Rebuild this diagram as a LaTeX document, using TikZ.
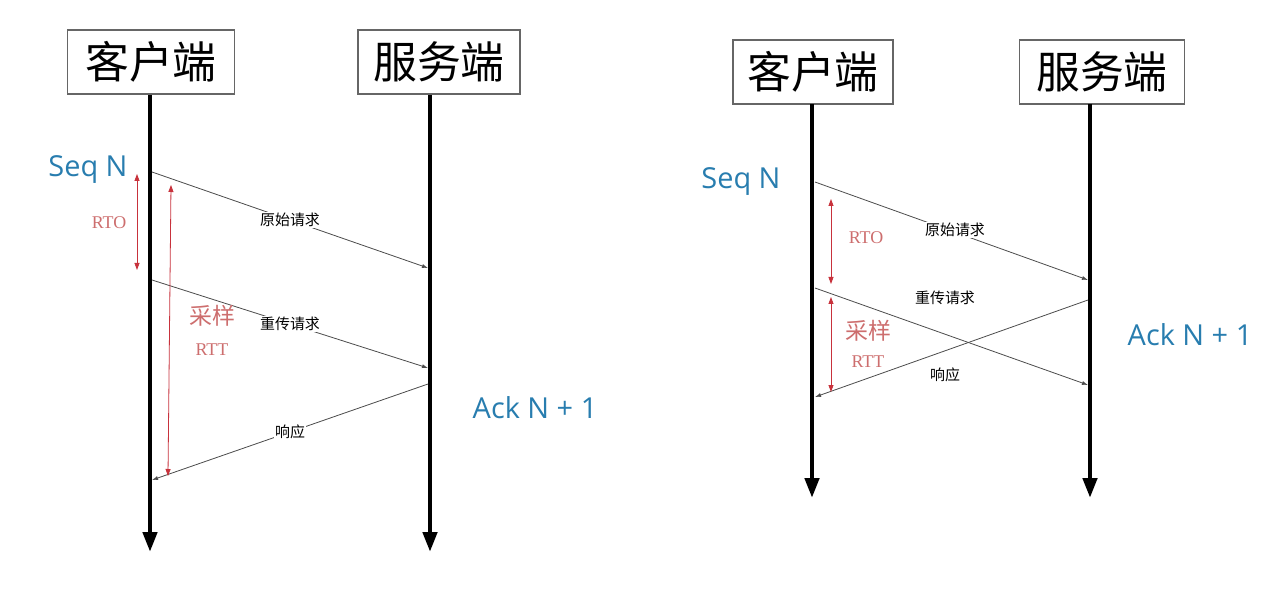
\documentclass[tikz,border=0pt]{standalone}
\usepackage{fontspec}
\setmainfont{Open Sans}
\newfontfamily\cjk{Noto Sans CJK SC}
\newfontfamily\serifl{Liberation Serif}
\usetikzlibrary{arrows.meta}
\definecolor{seqblue}{RGB}{40,125,175}
\definecolor{rred}{RGB}{200,50,60}
\definecolor{tred}{RGB}{205,110,110}
\tikzset{
  title/.style={draw=gray!80!black,line width=1.2bp,font=\cjk\fontsize{44}{46}\selectfont,inner sep=2bp,minimum height=64bp},
  life/.style={line width=4.5bp,-{Triangle[length=20bp,width=14bp]}},
  msg/.style={draw=gray!60!black,line width=0.8bp,-{Latex[length=6bp,width=4bp]}},
  mlabel/.style={fill=white,font=\cjk\fontsize{15}{17}\selectfont,inner sep=1bp},
  span/.style={draw=rred,line width=0.8bp,{Triangle[length=7bp,width=5bp]}-{Triangle[length=7bp,width=5bp]}},
  seq/.style={text=seqblue,font=\fontsize{29}{32}\selectfont},
  rlab/.style={text=tred,font=\serifl\fontsize{18}{20}\selectfont},
  rlabc/.style={text=tred,font=\cjk\fontsize{23}{25}\selectfont}
}
\begin{document}
\begin{tikzpicture}[x=1bp,y=-1bp]
\useasboundingbox (0,0) rectangle (1280,592);
\fill[white] (0,0) rectangle (1280,592);
% left diagram
\node[title,minimum width=167bp] (lc) at (151,62) {客户端};
\node[title,minimum width=162bp] (ls) at (439,62) {服务端};
\coordinate (lc0) at (150,95); \coordinate (lc1) at (150,552);
\coordinate (ls0) at (430,95); \coordinate (ls1) at (430,552);
\draw[life] (lc0) -- (lc1);
\draw[life] (ls0) -- (ls1);
\node[seq] (lseq) at (88,170) {Seq N};
\node[seq] (lack) at (535,408) {Ack N + 1};
\coordinate (la1) at (152,172); \coordinate (la2) at (428,268);
\coordinate (lb1) at (152,280); \coordinate (lb2) at (428,368);
\coordinate (lr1) at (428,384); \coordinate (lr2) at (152,480);
\draw[msg] (la1) -- node[mlabel,pos=0.5] (l1) {原始请求} (la2);
\draw[msg] (lb1) -- node[mlabel,pos=0.5] (l2) {重传请求} (lb2);
\draw[msg] (lr1) -- node[mlabel,pos=0.5] (l3) {响应} (lr2);
\coordinate (lrto1) at (137,174); \coordinate (lrto2) at (137,270);
\draw[span] (lrto1) -- (lrto2);
\node[rlab] (lrto) at (109,223) {RTO};
\coordinate (lrtt1) at (171,185); \coordinate (lrtt2) at (168,476);
\draw[span] (lrtt1) -- (lrtt2);
\node[rlabc] (lcy) at (212,316) {采样};
\node[rlab] (lrtt) at (212,350) {RTT};
% right diagram
\node[title,minimum width=160bp] (rc) at (813,72) {客户端};
\node[title,minimum width=165bp] (rs) at (1102,72) {服务端};
\coordinate (rc0) at (812,104); \coordinate (rc1) at (812,498);
\coordinate (rs0) at (1090,104); \coordinate (rs1) at (1090,498);
\draw[life] (rc0) -- (rc1);
\draw[life] (rs0) -- (rs1);
\node[seq] (rseq) at (741,182) {Seq N};
\node[seq] (rack) at (1190,335) {Ack N + 1};
\coordinate (ra1) at (815,182); \coordinate (ra2) at (1088,280);
\coordinate (rb1) at (815,288); \coordinate (rb2) at (1088,385);
\coordinate (rr1) at (1088,300); \coordinate (rr2) at (815,397);
\draw[msg] (ra1) -- (ra2);
\draw[msg] (rb1) -- (rb2);
\draw[msg] (rr1) -- (rr2);
\node[mlabel] (r1) at (955,230) {原始请求};
\node[mlabel,fill=none] (r2) at (945,298) {重传请求};
\node[mlabel] (r3) at (945,375) {响应};
\coordinate (rrto1) at (831,199); \coordinate (rrto2) at (831,284);
\draw[span] (rrto1) -- (rrto2);
\node[rlab] (rrto) at (866,238) {RTO};
\coordinate (rrtt1) at (831,297); \coordinate (rrtt2) at (831,392);
\draw[span] (rrtt1) -- (rrtt2);
\node[rlabc] (rcy) at (868,331) {采样};
\node[rlab] (rrtt) at (868,362) {RTT};
\end{tikzpicture}
\end{document}
